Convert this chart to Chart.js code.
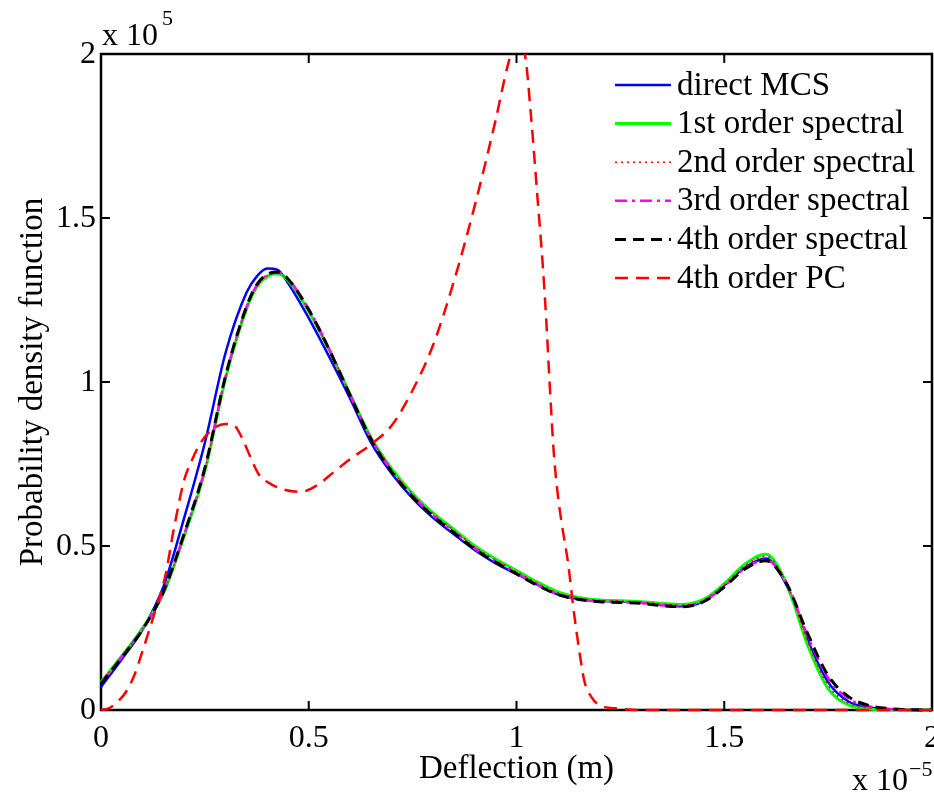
<!DOCTYPE html>
<html>
<head>
<meta charset="utf-8">
<script src="https://cdn.jsdelivr.net/npm/chart.js@4.4.0/dist/chart.umd.min.js"></script>
<style>
  body { margin: 0; background: #fff; }
  canvas { display: block; }
</style>
</head>
<body>
<canvas id="pdfChart" width="934" height="797"></canvas>
<script>
// deflection grid (x 1e-5 m) shared by the MCS and spectral curves
const xGrid = [0, 0.05, 0.1, 0.15, 0.2, 0.25, 0.3, 0.35, 0.375, 0.4, 0.425, 0.45, 0.5, 0.55, 0.6, 0.65, 0.7, 0.75, 0.8, 0.85, 0.9, 0.95,
  1, 1.05, 1.1, 1.15, 1.2, 1.25, 1.3, 1.35, 1.4, 1.45, 1.5, 1.55, 1.6, 1.65, 1.7, 1.75, 1.8, 1.85, 1.9, 1.95, 2];

// pdf values (x 1e5)
const directMCS = [0.070, 0.155, 0.245, 0.375, 0.585, 0.815, 1.090, 1.272, 1.322, 1.346, 1.342, 1.302, 1.195, 1.075, 0.948, 0.815, 0.720, 0.645, 0.585, 0.535, 0.487, 0.447,
  0.415, 0.382, 0.352, 0.338, 0.332, 0.331, 0.328, 0.320, 0.316, 0.332, 0.380, 0.435, 0.462, 0.380, 0.215, 0.085, 0.025, 0.008, 0.002, 0.000, 0.000];
const spectral1 = [0.085, 0.165, 0.250, 0.355, 0.530, 0.728, 1.012, 1.222, 1.290, 1.322, 1.330, 1.310, 1.215, 1.095, 0.962, 0.830, 0.735, 0.660, 0.600, 0.550, 0.500, 0.460,
  0.425, 0.390, 0.360, 0.343, 0.335, 0.333, 0.330, 0.325, 0.322, 0.337, 0.385, 0.445, 0.475, 0.385, 0.200, 0.065, 0.015, 0.003, 0.000, 0.000, 0.000];
const spectral2 = [0.084, 0.164, 0.249, 0.357, 0.533, 0.732, 1.015, 1.225, 1.293, 1.324, 1.332, 1.312, 1.218, 1.097, 0.961, 0.829, 0.732, 0.657, 0.597, 0.547, 0.497, 0.457,
  0.422, 0.387, 0.357, 0.341, 0.334, 0.332, 0.329, 0.323, 0.320, 0.335, 0.382, 0.440, 0.468, 0.386, 0.210, 0.075, 0.020, 0.005, 0.001, 0.000, 0.000];
const spectral3 = [0.082, 0.162, 0.247, 0.358, 0.535, 0.735, 1.018, 1.227, 1.295, 1.326, 1.334, 1.315, 1.222, 1.099, 0.960, 0.827, 0.728, 0.652, 0.592, 0.542, 0.492, 0.452,
  0.417, 0.382, 0.353, 0.338, 0.331, 0.329, 0.326, 0.319, 0.316, 0.331, 0.377, 0.432, 0.458, 0.388, 0.228, 0.098, 0.034, 0.011, 0.003, 0.001, 0.000];
const spectral4 = [0.080, 0.160, 0.245, 0.360, 0.537, 0.738, 1.020, 1.229, 1.297, 1.328, 1.335, 1.314, 1.220, 1.097, 0.958, 0.825, 0.725, 0.650, 0.590, 0.540, 0.490, 0.450,
  0.415, 0.380, 0.352, 0.337, 0.330, 0.328, 0.325, 0.318, 0.315, 0.330, 0.375, 0.430, 0.455, 0.385, 0.235, 0.105, 0.040, 0.013, 0.004, 0.001, 0.000];

// 4th order PC has its own (finer) grid
const pcX = [0, 0.02, 0.04, 0.06, 0.08, 0.1, 0.13, 0.155, 0.175, 0.2, 0.22, 0.24, 0.27, 0.3, 0.32, 0.34, 0.36, 0.38, 0.41, 0.44,
  0.48, 0.52, 0.56, 0.6, 0.65, 0.7, 0.75, 0.8, 0.85, 0.9, 0.95, 0.98, 1.0, 1.02, 1.035, 1.05, 1.063, 1.072, 1.08, 1.09,
  1.1, 1.11, 1.125, 1.137, 1.15, 1.163, 1.18, 1.2, 1.25, 1.3, 1.5, 2];
const pcY = [0, 0.006, 0.025, 0.055, 0.105, 0.18, 0.30, 0.41, 0.55, 0.70, 0.765, 0.815, 0.858, 0.872, 0.868, 0.828, 0.77, 0.718, 0.688, 0.672,
  0.665, 0.685, 0.725, 0.765, 0.81, 0.868, 0.975, 1.115, 1.31, 1.54, 1.80, 1.97, 2.04, 2.0, 1.81, 1.57, 1.36, 1.18, 0.99, 0.78,
  0.65, 0.56, 0.44, 0.31, 0.19, 0.09, 0.04, 0.015, 0.004, 0, 0, 0];

const tickValues = [0, 0.5, 1, 1.5, 2];
const tickLabels = ['0', '0.5', '1', '1.5', '2'];
const seriesNames = ['direct MCS', '1st order spectral', '2nd order spectral', '3rd order spectral', '4th order spectral', '4th order PC'];

const serif = '"Liberation Serif", "Times New Roman", serif';

function toPoints(xs, ys) {
  return xs.map((x, i) => ({ x: x, y: ys[i] }));
}

function line(label, xs, ys, color, width, dash, order) {
  return {
    label: label,
    data: toPoints(xs, ys),
    borderColor: color,
    borderWidth: width,
    borderDash: dash,
    pointRadius: 0,
    fill: false,
    cubicInterpolationMode: 'monotone',
    clip: { left: 3, top: 0, right: 3, bottom: 3 },
    order: order
  };
}

const datasets = [
  line(seriesNames[0], xGrid, directMCS, '#0000ff', 2.5, [], 6),
  line(seriesNames[1], xGrid, spectral1, '#00ff00', 3, [], 5),
  line(seriesNames[2], xGrid, spectral2, '#ff0000', 1.5, [2, 4], 4),
  line(seriesNames[3], xGrid, spectral3, '#ff00ff', 2.5, [12, 5, 3, 5], 3),
  line(seriesNames[4], xGrid, spectral4, '#000000', 3, [11, 7], 2),
  line(seriesNames[5], pcX, pcY, '#ff0000', 2.5, [13, 8], 1)
];

// frame with inward ticks, matlab style, drawn under the curves
const framePlugin = {
  id: 'frame',
  beforeDatasetsDraw(chart) {
    const ctx = chart.ctx;
    const a = chart.chartArea;
    const xs = chart.scales.x, ys = chart.scales.y;
    ctx.save();
    ctx.strokeStyle = '#000';
    ctx.lineWidth = 2.5;
    ctx.strokeRect(a.left, a.top, a.right - a.left, a.bottom - a.top);
    ctx.lineWidth = 2;
    const len = 9;
    tickValues.forEach(v => {
      const px = xs.getPixelForValue(v);
      const py = ys.getPixelForValue(v);
      ctx.beginPath();
      ctx.moveTo(px, a.bottom); ctx.lineTo(px, a.bottom - len);
      ctx.moveTo(px, a.top); ctx.lineTo(px, a.top + len);
      ctx.moveTo(a.left, py); ctx.lineTo(a.left + len, py);
      ctx.moveTo(a.right, py); ctx.lineTo(a.right - len, py);
      ctx.stroke();
    });
    ctx.restore();
  },
  afterDraw(chart) {
    const ctx = chart.ctx;
    const a = chart.chartArea;
    const xs = chart.scales.x, ys = chart.scales.y;
    ctx.save();
    ctx.fillStyle = '#000';
    ctx.font = '32px ' + serif;

    // tick labels
    ctx.textAlign = 'center';
    ctx.textBaseline = 'alphabetic';
    tickValues.forEach((v, i) => ctx.fillText(tickLabels[i], xs.getPixelForValue(v), 747));
    ctx.textAlign = 'right';
    ctx.textBaseline = 'middle';
    tickValues.forEach((v, i) => ctx.fillText(tickLabels[i], 96, ys.getPixelForValue(v) + 1));

    // axis titles
    ctx.textAlign = 'center';
    ctx.textBaseline = 'alphabetic';
    ctx.font = '33px ' + serif;
    ctx.fillText('Deflection (m)', (a.left + a.right) / 2, 778);
    ctx.save();
    ctx.translate(42, (a.top + a.bottom) / 2);
    ctx.rotate(-Math.PI / 2);
    ctx.fillText('Probability density function', 0, 0);
    ctx.restore();

    // exponent markers
    ctx.textAlign = 'left';
    ctx.font = '32px ' + serif;
    ctx.fillText('x 10', 102, 45);
    ctx.fillText('x 10', 852, 790);
    ctx.font = '22px ' + serif;
    ctx.fillText('5', 162, 25);
    ctx.fillText('\u22125', 909, 776);

    // legend inside the axes, no box
    ctx.font = '33px ' + serif;
    ctx.textBaseline = 'middle';
    chart.data.datasets.forEach((ds, i) => {
      const y = 85 + i * 38.6;
      ctx.beginPath();
      ctx.strokeStyle = ds.borderColor;
      ctx.lineWidth = ds.borderWidth;
      ctx.setLineDash(ds.borderDash);
      ctx.moveTo(615, y);
      ctx.lineTo(671, y);
      ctx.stroke();
      ctx.setLineDash([]);
      ctx.fillText(ds.label, 677, y + 1);
    });
    ctx.restore();
  }
};

new Chart(document.getElementById('pdfChart').getContext('2d'), {
  type: 'line',
  data: { datasets: datasets },
  options: {
    responsive: false,
    animation: false,
    layout: { padding: { left: 101, top: 54, right: 2, bottom: 87 } },
    plugins: { legend: { display: false }, tooltip: { enabled: false } },
    scales: {
      x: { type: 'linear', min: 0, max: 2, display: false },
      y: { type: 'linear', min: 0, max: 2, display: false }
    }
  },
  plugins: [framePlugin]
});
</script>
</body>
</html>
